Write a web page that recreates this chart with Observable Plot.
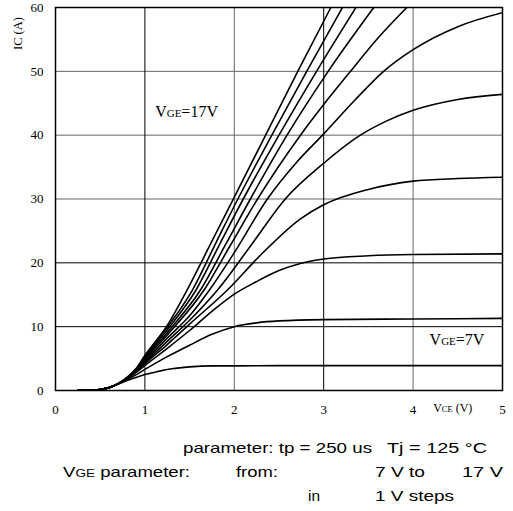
<!DOCTYPE html>
<html><head><meta charset="utf-8">
<script src="https://cdn.jsdelivr.net/npm/d3@7"></script>
<script src="https://cdn.jsdelivr.net/npm/@observablehq/plot@0.6"></script>
<style>
html,body{margin:0;padding:0;background:#fff;}
#wrap{width:513px;height:511px;position:relative;overflow:hidden;}
svg{display:block;}
</style></head><body>
<div id="wrap"></div>
<script>
// ---- data: IC (A) vs VCE (V) for VGE = 7..17 V ----
const vgeValues = [7, 8, 9, 10, 11, 12, 13, 14, 15, 16, 17];
const vge7  = [[0.25,0],[0.4,0.05],[0.5,0.15],[0.6,0.45],[0.7,1.0],[0.8,1.55],[0.9,2.05],[1.0,2.5],[1.15,3.0],[1.3,3.4],[1.5,3.7],[1.75,3.85],[2.0,3.85],[2.5,3.9],[3.0,3.9],[4.0,3.9],[5.0,3.9]];
const vge8  = [[0.25,0],[0.4,0.05],[0.5,0.15],[0.6,0.45],[0.7,1.05],[0.8,1.7],[0.9,2.45],[1.0,3.3],[1.25,5.3],[1.5,7.1],[1.75,8.8],[2.0,10.0],[2.25,10.6],[2.5,10.9],[3.0,11.1],[4.0,11.2],[5.0,11.3]];
const vge9  = [[0.25,0],[0.4,0.05],[0.5,0.15],[0.6,0.45],[0.7,1.05],[0.8,1.8],[0.9,2.8],[1.0,3.9],[1.25,6.6],[1.5,9.4],[1.75,12.4],[2.0,15.1],[2.24,17.0],[2.5,18.8],[2.74,19.9],[3.0,20.6],[3.5,21.1],[4.0,21.3],[5.0,21.4]];
const vge10 = [[0.25,0],[0.4,0.05],[0.5,0.15],[0.6,0.45],[0.7,1.05],[0.8,1.85],[0.9,2.9],[1.0,4.2],[1.25,7.2],[1.5,10.4],[1.92,15.7],[2.3,21.3],[2.74,26.9],[3.0,29.1],[3.5,31.5],[4.0,32.8],[4.5,33.2],[5.0,33.4]];
const vge11 = [[0.25,0],[0.4,0.05],[0.5,0.15],[0.6,0.45],[0.7,1.05],[0.8,1.9],[0.9,3.0],[1.0,4.4],[1.25,7.7],[1.5,11.0],[1.81,15.7],[2.2,23.0],[2.57,30],[3.0,35.6],[3.41,40],[3.7,42.2],[4.0,43.9],[4.5,45.6],[5.0,46.4]];
const vge12 = [[0.25,0],[0.4,0.05],[0.5,0.15],[0.6,0.45],[0.7,1.05],[0.8,1.9],[0.9,3.05],[1.0,4.6],[1.25,8.2],[1.5,11.7],[1.72,15.7],[2.0,21.6],[2.37,30],[2.7,35.8],[3.0,40.2],[3.35,45.5],[3.67,50],[4.0,53.4],[4.5,57.0],[5.0,59.2]];
const vge13 = [[0.25,0],[0.4,0.05],[0.5,0.15],[0.6,0.45],[0.7,1.05],[0.8,1.95],[0.9,3.1],[1.0,4.85],[1.25,8.7],[1.66,15.7],[1.95,22.6],[2.26,30],[2.74,40],[3.0,44.8],[3.3,50],[3.6,55.1],[3.93,60]];
const vge14 = [[0.25,0],[0.4,0.05],[0.5,0.15],[0.6,0.45],[0.7,1.05],[0.8,2.0],[0.9,3.2],[1.0,5.0],[1.25,9.1],[1.62,15.7],[1.9,22.8],[2.18,30],[2.59,40],[3.05,50],[3.56,60]];
const vge15 = [[0.25,0],[0.4,0.05],[0.5,0.15],[0.6,0.45],[0.7,1.05],[0.8,2.0],[0.9,3.3],[1.0,5.2],[1.25,9.5],[1.57,15.7],[1.85,23.3],[2.1,30],[2.5,40],[2.92,50],[3.36,60]];
const vge16 = [[0.25,0],[0.4,0.05],[0.5,0.15],[0.6,0.45],[0.7,1.05],[0.8,2.0],[0.9,3.35],[1.0,5.4],[1.25,9.9],[1.53,15.7],[1.8,23.3],[2.04,30],[2.42,40],[2.81,50],[3.21,60]];
const vge17 = [[0.25,0],[0.4,0.05],[0.5,0.15],[0.6,0.45],[0.7,1.05],[0.8,2.05],[0.9,3.4],[1.0,5.5],[1.25,10.2],[1.47,15.7],[1.75,23.4],[2.0,30.3],[2.35,40],[2.71,50],[3.08,60]];
const curves = [vge7, vge8, vge9, vge10, vge11, vge12, vge13, vge14, vge15, vge16, vge17];

const xTicks = [0, 1, 2, 3, 4, 5];
const yTicks = [0, 10, 20, 30, 40, 50, 60];
const gridXDark = [1, 3], gridXLight = [2, 4];
const gridYDark = [10, 20], gridYLight = [30, 40, 50];

const rows = curves.flatMap((pts, i) => pts.map(([v, c]) => ({vge: vgeValues[i], vce: v, ic: c})));

const chart = Plot.plot({
  width: 513, height: 425,
  marginLeft: 55, marginRight: 11, marginTop: 7, marginBottom: 35,
  style: {fontFamily: "'Liberation Serif', 'Times New Roman', serif", fontSize: "13px", background: "#fff"},
  x: {domain: [0, 5], ticks: xTicks, tickSize: 0, tickPadding: 14, label: null, tickFormat: d3.format("d")},
  y: {domain: [0, 60], ticks: yTicks, tickSize: 0, tickPadding: 12, label: null, tickFormat: d3.format("d")},
  marks: [
    Plot.ruleX(gridXLight, {stroke: "#666", strokeWidth: 1}),
    Plot.ruleY(gridYLight, {stroke: "#666", strokeWidth: 1}),
    Plot.ruleX(gridXDark, {stroke: "#000", strokeWidth: 1}),
    Plot.ruleY(gridYDark, {stroke: "#000", strokeWidth: 1}),
    Plot.line(rows, {x: "vce", y: "ic", z: "vge", stroke: "#000", strokeWidth: 1.6, curve: "monotone-x", clip: true}),
    Plot.frame({stroke: "#000", strokeWidth: 1.5})
  ]
});
document.getElementById("wrap").appendChild(chart);

const xs = chart.scale("x"), ys = chart.scale("y");
const svg = d3.select(chart);
const serif = "'Liberation Serif', 'Times New Roman', serif";
function rich(x, y, parts, opts = {}) {
  const t = svg.append("text").attr("x", x).attr("y", y).attr("text-anchor", "start")
    .attr("font-family", opts.family || serif).attr("fill", "#000");
  if (opts.rotate) t.attr("transform", `rotate(-90 ${x} ${y})`);
  parts.forEach(([s, size]) => t.append("tspan").attr("font-size", size + "px").text(s));
  return t;
}
// in-plot labels (positions in data units)
const label17 = {vce: 1.12, ic: 42.8}, label7 = {vce: 4.19, ic: 7.05};
rich(xs.apply(label17.vce), ys.apply(label17.ic), [["V", 16], ["GE", 11], ["=17V", 16]]);
rich(xs.apply(label7.vce), ys.apply(label7.ic), [["V", 16], ["GE", 11], ["=7V", 16]]);
// axis labels
rich(xs.apply(4.23), ys.apply(0) + 22, [["V", 12], ["CE", 8.5], [" (V)", 12]]);
rich(22, 50, [["IC (A)", 12.5]], {rotate: true});

// caption below the chart
const cap = d3.select("#wrap").append("svg").attr("width", 513).attr("height", 86);
const sans = "'Liberation Sans', Arial, sans-serif";
function capText(x, y, len, parts) {
  const t = cap.append("text").attr("x", x).attr("y", y).attr("font-family", sans).attr("fill", "#000")
    .attr("textLength", len).attr("lengthAdjust", "spacingAndGlyphs");
  parts.forEach(([s, size]) => t.append("tspan").attr("font-size", size + "px").text(s));
}
capText(183, 28, 189, [["parameter: tp = 250 us", 15]]);
capText(387, 28, 100, [["Tj = 125 °C", 15]]);
capText(63, 52, 127, [["V", 15], ["GE", 11], [" parameter:", 15]]);
capText(236, 52, 42, [["from:", 15]]);
capText(375, 52, 50, [["7 V to", 15]]);
capText(462, 52, 41, [["17 V", 15]]);
capText(308, 76, 12, [["in", 15]]);
capText(375, 76, 79, [["1 V steps", 15]]);
</script>
</body></html>
